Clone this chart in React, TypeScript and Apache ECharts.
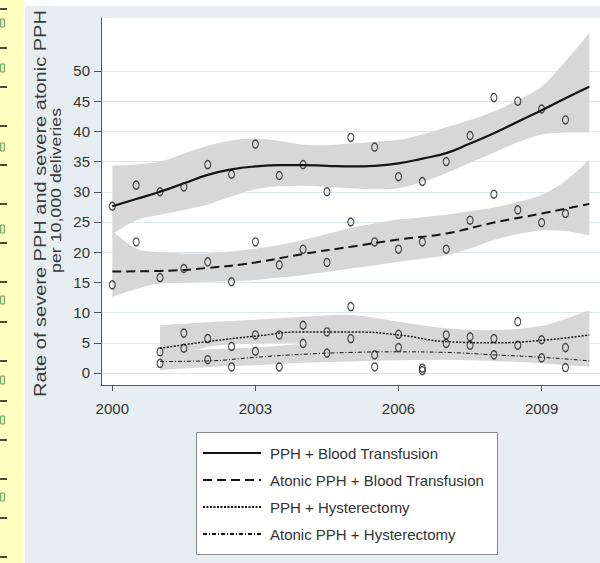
import { useEffect, useRef } from 'react';
import * as echarts from 'echarts';

// ---------- data ----------
const seriesNames = [
  'PPH + Blood Transfusion',
  'Atonic PPH + Blood Transfusion',
  'PPH + Hysterectomy',
  'Atonic PPH + Hysterectomy',
];
const xTickYears = [2000, 2003, 2006, 2009];
const yTickValues = [0, 5, 10, 15, 20, 25, 30, 35, 40, 45, 50];

// observed rates (half-yearly)
const transfusionYears = [2000, 2000.5, 2001, 2001.5, 2002, 2002.5, 2003, 2003.5, 2004, 2004.5, 2005, 2005.5, 2006, 2006.5, 2007, 2007.5, 2008, 2008.5, 2009, 2009.5];
const pphTransfusionRates = [27.6, 31.1, 30.0, 30.8, 34.5, 32.9, 37.9, 32.7, 34.5, 30.0, 39.0, 37.4, 32.5, 31.7, 35.0, 39.3, 45.6, 45.0, 43.7, 41.9];
const atonicTransfusionRates = [14.6, 21.7, 15.8, 17.3, 18.4, 15.1, 21.7, 17.9, 20.5, 18.3, 25.0, 21.7, 20.5, 21.7, 20.5, 25.3, 29.6, 27.0, 24.9, 26.4];
const hysterectomyYears = [2001, 2001.5, 2002, 2002.5, 2003, 2003.5, 2004, 2004.5, 2005, 2005.5, 2006, 2006.5, 2007, 2007.5, 2008, 2008.5, 2009, 2009.5];
const pphHysterectomyRates = [3.5, 6.6, 5.7, 4.4, 6.3, 6.3, 7.9, 6.8, 11.0, 3.0, 6.4, 0.8, 6.3, 6.0, 5.7, 8.5, 5.5, 4.2];
const atonicHysterectomyRates = [1.6, 4.1, 2.2, 1.0, 3.6, 1.0, 4.9, 3.3, 5.7, 1.0, 4.2, 0.4, 4.9, 4.6, 3.0, 4.6, 2.5, 0.9];

// smoothed fits and confidence bands
const bandYears = [2000, 2000.5, 2001, 2001.5, 2002, 2002.5, 2003, 2003.5, 2004, 2004.5, 2005, 2005.5, 2006, 2006.5, 2007, 2007.5, 2008, 2008.5, 2009, 2009.5, 2010];
const pphTransfusionFit = [27.6, 28.8, 30.0, 31.4, 32.8, 33.7, 34.2, 34.4, 34.4, 34.3, 34.2, 34.3, 34.7, 35.5, 36.4, 38.0, 39.7, 41.6, 43.5, 45.5, 47.4];
const pphTransfusionUpper = [34.3, 34.5, 35.0, 36.3, 37.6, 38.5, 38.8, 38.4, 37.8, 37.7, 38.0, 38.3, 38.6, 39.5, 40.7, 41.9, 43.3, 45.2, 47.4, 51.6, 56.3];
const pphTransfusionLower = [23.0, 25.3, 26.2, 27.0, 27.9, 29.2, 30.4, 30.9, 31.0, 30.8, 30.6, 30.4, 30.6, 31.6, 33.1, 34.8, 36.5, 38.2, 39.5, 39.8, 39.8];
const atonicTransfusionUpper = [23.5, 20.6, 20.0, 19.8, 19.8, 20.1, 20.6, 21.2, 22.0, 23.0, 24.0, 24.8, 25.4, 25.8, 26.2, 26.8, 27.4, 28.3, 29.5, 31.8, 35.3];
const atonicTransfusionLower = [12.6, 13.9, 14.8, 15.0, 15.1, 15.2, 15.4, 15.8, 16.2, 16.7, 17.3, 17.8, 18.4, 18.9, 19.5, 20.6, 22.0, 23.0, 23.6, 23.5, 22.8];
const fitYears = [2000, 2001, 2002, 2003, 2004, 2005, 2006, 2007, 2008, 2009, 2010];
const atonicTransfusionFit = [16.8, 16.9, 17.4, 18.3, 19.7, 20.9, 22.1, 23.1, 24.9, 26.4, 28.0];

const hystFitYears = [2001, 2002, 2003, 2004, 2005, 2006, 2007, 2008, 2009, 2010];
const pphHystFit = [4.1, 5.2, 6.1, 6.8, 6.8, 6.3, 5.2, 5.0, 5.4, 6.3];
const pphHystUpper = [7.9, 8.4, 8.8, 9.3, 9.6, 8.5, 7.4, 7.1, 7.8, 10.4];
const pphHystLower = [1.8, 4.3, 4.9, 5.0, 4.6, 4.2, 3.6, 3.3, 3.0, 2.6];
const atonicHystFit = [1.9, 2.0, 2.6, 3.1, 3.4, 3.5, 3.4, 3.0, 2.6, 2.0];
const atonicHystUpper = [3.5, 3.9, 4.2, 4.8, 5.2, 5.0, 4.8, 4.5, 4.3, 4.6];
const atonicHystLower = [0.5, 1.0, 1.3, 1.7, 1.9, 2.1, 2.2, 2.0, 1.6, 1.0];

// decorative margin strip
const stripDashY = [9, 48, 87, 126, 165, 204, 243, 282, 322, 361, 401, 440, 479, 518, 557];
const stripGreenY = [23, 68, 147, 229, 300, 380, 420, 497];

// ---------- helpers ----------
const FONT = "'Liberation Sans', Arial, sans-serif";
const BAND = '#d7d7d7';
const INK = '#141414';

function curve(pts: number[][], start: string): string {
  let d = `${start}${pts[0][0]},${pts[0][1]}`;
  for (let i = 0; i < pts.length - 1; i++) {
    const p0 = pts[i - 1] || pts[i];
    const p1 = pts[i];
    const p2 = pts[i + 1];
    const p3 = pts[i + 2] || pts[i + 1];
    const c1 = [p1[0] + (p2[0] - p0[0]) / 6, p1[1] + (p2[1] - p0[1]) / 6];
    const c2 = [p2[0] - (p3[0] - p1[0]) / 6, p2[1] - (p3[1] - p1[1]) / 6];
    d += ` C${c1[0]},${c1[1]} ${c2[0]},${c2[1]} ${p2[0]},${p2[1]}`;
  }
  return d;
}

function bandSeries(name: string, xs: number[], lo: number[], hi: number[]) {
  return {
    type: 'custom',
    name,
    silent: true,
    data: xs.map((x, i) => [x, lo[i], hi[i]]),
    encode: { x: 0, y: [1, 2] },
    renderItem: (params: any, api: any) => {
      if (params.dataIndex !== 0) return null;
      const up = xs.map((x, i) => api.coord([x, hi[i]]));
      const dn = xs.map((x, i) => api.coord([x, lo[i]])).reverse();
      const d = curve(up, 'M') + ' ' + curve(dn, 'L') + ' Z';
      return { type: 'path', shape: { pathData: d }, style: { fill: BAND, stroke: null } };
    },
  };
}

function fitSeries(name: string, xs: number[], ys: number[], width: number, type: any) {
  return {
    type: 'line',
    name,
    data: xs.map((x, i) => [x, ys[i]]),
    symbol: 'none',
    smooth: 0.5,
    color: INK,
    lineStyle: { color: INK, width, type },
    silent: true,
  };
}

function pointSeries(name: string, xs: number[], ys: number[]) {
  return {
    type: 'scatter',
    name,
    data: xs.map((x, i) => [x, ys[i]]),
    symbol: 'circle',
    symbolSize: [6, 8],
    itemStyle: { color: 'transparent', borderColor: '#1e1e1e', borderWidth: 1.25 },
    silent: true,
  };
}

// rotated title line, starting at (x, yStart) and reading upwards
function titleText(text: string, x: number, yStart: number, size: number, stretch: number) {
  return {
    type: 'text', x, y: yStart, rotation: Math.PI / 2, scaleX: stretch, silent: true,
    style: {
      text, fontSize: size, fontFamily: FONT, fill: '#3a3a3a',
      align: 'left', textAlign: 'left', verticalAlign: 'middle', textVerticalAlign: 'middle',
    },
  };
}

export default function App() {
  const ref = useRef<HTMLDivElement>(null);
  useEffect(() => {
    if (!ref.current) return;
    const chart = echarts.init(ref.current, undefined, { renderer: 'svg' });
    const graphic: any[] = [
      { type: 'rect', shape: { x: 0, y: 0, width: 23, height: 563 }, style: { fill: '#ffffc2' }, silent: true },
      { type: 'rect', shape: { x: 23, y: 0, width: 2, height: 563 }, style: { fill: '#ffffff' }, silent: true },
      { type: 'rect', shape: { x: 25, y: 0, width: 575, height: 6 }, style: { fill: '#ffffff' }, silent: true },
      ...stripDashY.map((y) => ({ type: 'rect', shape: { x: 0, y: y - 1, width: 7, height: 2 }, style: { fill: '#4d4a2e' }, silent: true })),
      ...stripGreenY.map((y) => ({ type: 'rect', shape: { x: 0.5, y: y - 4, width: 4, height: 8 }, style: { fill: '#dff0c0', stroke: '#7aa660', lineWidth: 1 }, silent: true })),
      titleText('Rate of severe PPH and severe atonic PPH', 41, 397, 16, 1.25),
      titleText('per 10,000 deliveries', 56, 273, 14, 1.27),
      { type: 'rect', z: 0, shape: { x: 196.5, y: 432.5, width: 301, height: 122 }, style: { fill: '#ffffff', stroke: '#8c8c8c', lineWidth: 1 }, silent: true },
    ];
    const option: any = {
      animation: false,
      backgroundColor: '#e7eef1',
      textStyle: { fontFamily: FONT },
      grid: { left: 101, right: 0, top: 18, bottom: 178, show: true, backgroundColor: '#ffffff', borderWidth: 0 },
      xAxis: {
        type: 'value', min: 1999.763, max: 2010.224,
        axisLine: { show: true, onZero: false, lineStyle: { color: '#555', width: 1 } },
        axisTick: { show: true, length: 6, customValues: xTickYears, lineStyle: { color: '#555' } },
        axisLabel: { customValues: xTickYears, formatter: (v: number) => String(v), color: '#333', fontSize: 15, fontFamily: FONT, margin: 16 },
        splitLine: { show: false },
      },
      yAxis: {
        type: 'value', min: -1.99, max: 58.77,
        axisLine: { show: true, onZero: false, lineStyle: { color: '#555', width: 1 } },
        axisTick: { show: true, length: 7, customValues: yTickValues, lineStyle: { color: '#555' } },
        axisLabel: { customValues: yTickValues, color: '#333', fontSize: 15, fontFamily: FONT, margin: 11 },
        splitLine: { show: true, lineStyle: { color: '#dfe8ec', width: 1 } },
      },
      legend: {
        show: true, orient: 'vertical', left: 202, top: 445, padding: 0, itemGap: 11, itemWidth: 58, itemHeight: 14,
        selectedMode: false, data: seriesNames, itemStyle: { opacity: 0 }, z: 10,
        textStyle: { fontSize: 15, fontFamily: FONT, color: '#333', lineHeight: 16, padding: [0, 0, 0, 4] },
      },
      graphic,
      series: [
        bandSeries('band1', bandYears, pphTransfusionLower, pphTransfusionUpper),
        bandSeries('band2', bandYears, atonicTransfusionLower, atonicTransfusionUpper),
        bandSeries('band3', hystFitYears, pphHystLower, pphHystUpper),
        bandSeries('band4', hystFitYears, atonicHystLower, atonicHystUpper),
        fitSeries(seriesNames[0], bandYears, pphTransfusionFit, 2.2, 'solid'),
        fitSeries(seriesNames[1], fitYears, atonicTransfusionFit, 2, [9, 5]),
        fitSeries(seriesNames[2], hystFitYears, pphHystFit, 1.5, [2, 1.5]),
        fitSeries(seriesNames[3], hystFitYears, atonicHystFit, 1, [4, 2, 1, 2]),
        pointSeries('pts1', transfusionYears, pphTransfusionRates),
        pointSeries('pts2', transfusionYears, atonicTransfusionRates),
        pointSeries('pts3', hysterectomyYears, pphHysterectomyRates),
        pointSeries('pts4', hysterectomyYears, atonicHysterectomyRates),
      ],
    };
    chart.setOption(option);
    return () => chart.dispose();
  }, []);
  return <div ref={ref} style={{ position: 'fixed', left: 0, top: 0, width: 600, height: 563 }} />;
}
